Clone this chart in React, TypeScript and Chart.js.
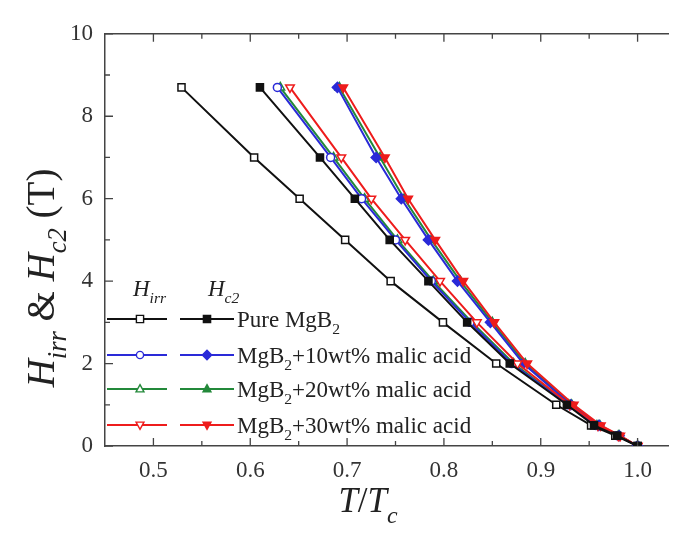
import React, { useEffect, useRef } from "react";
import { Chart, registerables } from "chart.js";

Chart.register(...registerables);

// ---- data ----
const fields = [8.7, 7, 6, 5, 4, 3, 2, 1, 0.5, 0.25, 0];
const pureHirr = [0.529, 0.604, 0.651, 0.698, 0.745, 0.799, 0.854, 0.916, 0.952, 0.977, 1.0];
const pureHc2 = [0.610, 0.672, 0.708, 0.744, 0.784, 0.824, 0.868, 0.927, 0.955, 0.979, 1.0];
const ma10Hirr = [0.628, 0.683, 0.715, 0.750, 0.787, 0.827, 0.870, 0.928, 0.957, 0.979, 1.0];
const ma20Hirr = [0.631, 0.686, 0.718, 0.752, 0.789, 0.829, 0.872, 0.929, 0.958, 0.980, 1.0];
const ma30Hirr = [0.641, 0.694, 0.725, 0.760, 0.796, 0.834, 0.876, 0.930, 0.959, 0.980, 1.0];
const ma10Hc2 = [0.690, 0.730, 0.756, 0.784, 0.814, 0.848, 0.882, 0.931, 0.960, 0.981, 1.0];
const ma20Hc2 = [0.692, 0.734, 0.759, 0.787, 0.817, 0.850, 0.884, 0.932, 0.961, 0.981, 1.0];
const ma30Hc2 = [0.696, 0.739, 0.763, 0.791, 0.820, 0.852, 0.886, 0.934, 0.962, 0.982, 1.0];

const xTicks = [0.5, 0.6, 0.7, 0.8, 0.9, 1.0];
const xMinor = [0.55, 0.65, 0.75, 0.85, 0.95];
const yTicks = [0, 2, 4, 6, 8, 10];
const yMinor = [1, 3, 5, 7, 9];

const legendNames = ["Pure MgB", "MgB", "MgB", "MgB"];
const legendSuffix = ["", "+10wt% malic acid", "+20wt% malic acid", "+30wt% malic acid"];

const BLACK = "#111111";
const BLUE = "#2a2ad8";
const GREEN = "#23893a";
const RED = "#ee1c1c";
const AXIS = "#444444";
const SERIF = "'Liberation Serif', 'DejaVu Serif', serif";

type Mk = { style: string; rot: number; filled: boolean; r: number };
const SQ_O: Mk = { style: "rect", rot: 0, filled: false, r: 5 };
const SQ_F: Mk = { style: "rect", rot: 0, filled: true, r: 5 };
const CI_O: Mk = { style: "circle", rot: 0, filled: false, r: 4 };
const DI_F: Mk = { style: "rectRot", rot: 0, filled: true, r: 5 };
const TU_O: Mk = { style: "triangle", rot: 0, filled: false, r: 5 };
const TU_F: Mk = { style: "triangle", rot: 0, filled: true, r: 5 };
const TD_O: Mk = { style: "triangle", rot: 180, filled: false, r: 5 };
const TD_F: Mk = { style: "triangle", rot: 180, filled: true, r: 5 };

function mkDataset(xs: number[], color: string, mk: Mk) {
  return {
    data: xs.map((x, i) => ({ x, y: fields[i] })),
    borderColor: color,
    borderWidth: 2,
    showLine: true,
    fill: false,
    tension: 0,
    pointStyle: mk.style,
    rotation: mk.rot,
    pointRadius: mk.r,
    pointBorderWidth: 1.5,
    pointBorderColor: color,
    pointBackgroundColor: mk.filled ? color : "#ffffff",
  };
}

type Seg = { t: string; it?: boolean; sub?: boolean };

function segWidth(ctx: CanvasRenderingContext2D, segs: Seg[], size: number) {
  let w = 0;
  for (const s of segs) {
    const fs = s.sub ? size * 0.68 : size;
    ctx.font = `${s.it ? "italic " : ""}${fs}px ${SERIF}`;
    w += ctx.measureText(s.t).width;
  }
  return w;
}

function drawSegs(ctx: CanvasRenderingContext2D, segs: Seg[], x: number, y: number, size: number, color: string) {
  ctx.fillStyle = color;
  ctx.textBaseline = "alphabetic";
  ctx.textAlign = "left";
  let cx = x;
  for (const s of segs) {
    const fs = s.sub ? size * 0.68 : size;
    ctx.font = `${s.it ? "italic " : ""}${fs}px ${SERIF}`;
    ctx.fillText(s.t, cx, y + (s.sub ? size * 0.3 : 0));
    cx += ctx.measureText(s.t).width;
  }
  return cx;
}

function drawMarker(ctx: CanvasRenderingContext2D, kind: string, filled: boolean, x: number, y: number, r: number, color: string) {
  ctx.beginPath();
  if (kind === "sq") {
    ctx.rect(x - r, y - r, 2 * r, 2 * r);
  } else if (kind === "ci") {
    ctx.arc(x, y, r, 0, Math.PI * 2);
  } else if (kind === "di") {
    ctx.moveTo(x, y - r * 1.3);
    ctx.lineTo(x + r * 1.3, y);
    ctx.lineTo(x, y + r * 1.3);
    ctx.lineTo(x - r * 1.3, y);
    ctx.closePath();
  } else if (kind === "tu") {
    ctx.moveTo(x, y - r * 1.2);
    ctx.lineTo(x + r * 1.1, y + r * 0.8);
    ctx.lineTo(x - r * 1.1, y + r * 0.8);
    ctx.closePath();
  } else if (kind === "td") {
    ctx.moveTo(x, y + r * 1.2);
    ctx.lineTo(x + r * 1.1, y - r * 0.8);
    ctx.lineTo(x - r * 1.1, y - r * 0.8);
    ctx.closePath();
  }
  ctx.fillStyle = filled ? color : "#ffffff";
  ctx.fill();
  ctx.strokeStyle = color;
  ctx.lineWidth = 1.4;
  ctx.stroke();
}

const decor = {
  id: "decor",
  afterDraw(chart: any) {
    const ctx: CanvasRenderingContext2D = chart.ctx;
    const { left, right, top, bottom } = chart.chartArea;
    const xs = chart.scales.x;
    const ys = chart.scales.y;
    ctx.save();
    // top frame
    ctx.strokeStyle = AXIS;
    ctx.lineWidth = 1.5;
    ctx.beginPath();
    ctx.moveTo(left, top);
    ctx.lineTo(right, top);
    ctx.stroke();
    // ticks inward
    ctx.lineWidth = 1.3;
    ctx.beginPath();
    for (const v of xTicks) {
      const p = xs.getPixelForValue(v);
      ctx.moveTo(p, bottom); ctx.lineTo(p, bottom - 8);
      ctx.moveTo(p, top); ctx.lineTo(p, top + 8);
    }
    for (const v of xMinor) {
      const p = xs.getPixelForValue(v);
      ctx.moveTo(p, bottom); ctx.lineTo(p, bottom - 5);
      ctx.moveTo(p, top); ctx.lineTo(p, top + 5);
    }
    for (const v of yTicks) {
      const p = ys.getPixelForValue(v);
      ctx.moveTo(left, p); ctx.lineTo(left + 8, p);
    }
    for (const v of yMinor) {
      const p = ys.getPixelForValue(v);
      ctx.moveTo(left, p); ctx.lineTo(left + 5, p);
    }
    ctx.stroke();

    // Y title
    const ySegs: Seg[] = [
      { t: "H", it: true }, { t: "irr", it: true, sub: true }, { t: " & " },
      { t: "H", it: true }, { t: "c2", it: true, sub: true }, { t: " (T)" },
    ];
    const tsize = 39;
    ctx.save();
    ctx.translate(46, 270);
    ctx.rotate(-Math.PI / 2);
    const yw = segWidth(ctx, ySegs, tsize);
    drawSegs(ctx, ySegs, -yw / 2, 0, tsize, "#222");
    ctx.restore();

    // X title
    const xSegs: Seg[] = [{ t: "T", it: true }, { t: "/" }, { t: "T", it: true }, { t: "c", it: true, sub: true }];
    const xs2 = 35;
    const xw = segWidth(ctx, xSegs, xs2);
    drawSegs(ctx, xSegs, 360 - xw / 2, 504, xs2, "#222");

    // Legend
    const lsize = 23;
    drawSegs(ctx, [{ t: "H", it: true }, { t: "irr", it: true, sub: true }], 125, 288, lsize, "#222");
    drawSegs(ctx, [{ t: "H", it: true }, { t: "c2", it: true, sub: true }], 200, 288, lsize, "#222");
    const rowsY = [311, 347, 381, 417];
    const colors = [BLACK, BLUE, GREEN, RED];
    const openK = ["sq", "ci", "tu", "td"];
    const fillK = ["sq", "di", "tu", "td"];
    for (let i = 0; i < 4; i++) {
      const yy = rowsY[i];
      const c = colors[i];
      ctx.strokeStyle = c;
      ctx.lineWidth = 2;
      ctx.beginPath();
      ctx.moveTo(99, yy); ctx.lineTo(159, yy);
      ctx.moveTo(172, yy); ctx.lineTo(226, yy);
      ctx.stroke();
      drawMarker(ctx, openK[i], false, 132, yy, 3.6, c);
      drawMarker(ctx, fillK[i], true, 199, yy, 3.6, c);
      drawSegs(ctx, [{ t: legendNames[i] }, { t: "2", sub: true }, { t: legendSuffix[i] }], 229, yy + 8, lsize, "#222");
    }
    ctx.restore();
  },
};

export default function App() {
  const ref = useRef<HTMLCanvasElement | null>(null);
  useEffect(() => {
    if (!ref.current) return;
    const datasets = [
      mkDataset(pureHc2, BLACK, SQ_F),
      mkDataset(pureHirr, BLACK, SQ_O),
      mkDataset(ma30Hc2, RED, TD_F),
      mkDataset(ma30Hirr, RED, TD_O),
      mkDataset(ma10Hc2, BLUE, DI_F),
      mkDataset(ma10Hirr, BLUE, CI_O),
      mkDataset(ma20Hc2, GREEN, TU_F),
      mkDataset(ma20Hirr, GREEN, TU_O),
    ];
    const tickFont = { family: SERIF, size: 23 };
    const chart = new Chart(ref.current, {
      type: "line",
      data: { datasets } as any,
      options: {
        animation: false,
        responsive: false,
        devicePixelRatio: 1,
        layout: { padding: { top: 12, right: 12, left: 0, bottom: 0 } },
        plugins: { legend: { display: false }, tooltip: { enabled: false } },
        scales: {
          x: {
            type: "linear",
            min: 0.45,
            max: 1.05,
            afterBuildTicks: (s: any) => { s.ticks = xTicks.map((v) => ({ value: v })); },
            afterFit: (s: any) => { s.height = 80; },
            grid: { display: false, drawTicks: false },
            border: { display: true, color: AXIS, width: 1.5 },
            ticks: { padding: 11, font: tickFont, color: "#333", maxRotation: 0, autoSkip: false, callback: (v: any) => Number(v).toFixed(1) },
          },
          y: {
            type: "linear",
            min: 0,
            max: 10,
            afterBuildTicks: (s: any) => { s.ticks = yTicks.map((v) => ({ value: v })); },
            afterFit: (s: any) => { s.width = 97; },
            grid: { display: false, drawTicks: false },
            border: { display: true, color: AXIS, width: 1.5 },
            ticks: { padding: 12, font: tickFont, color: "#333", callback: (v: any) => String(v) },
          },
        },
      } as any,
      plugins: [decor],
    });
    return () => chart.destroy();
  }, []);
  return (
    <div style={{ width: 669, height: 518, overflow: "hidden" }}>
      <canvas ref={ref} width={690} height={518} style={{ display: "block", width: 690, height: 518 }} />
    </div>
  );
}
